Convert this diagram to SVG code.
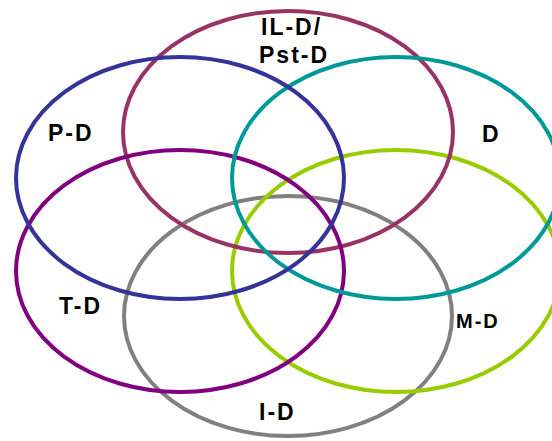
<svg xmlns="http://www.w3.org/2000/svg" width="552" height="441" viewBox="0 0 552 441">
<style>
.e{fill:none;stroke-width:4}
.t{font-family:"Liberation Sans",Arial,sans-serif;font-weight:bold;font-size:23px;fill:#000;letter-spacing:2px}
</style>
<rect width="552" height="441" fill="#fff"/>
<g id="connectors"/>
<g id="set-ID"><ellipse class="e" cx="288" cy="316" rx="164" ry="120" stroke="#808080"/></g>
<g id="set-MD"><ellipse class="e" cx="396" cy="271" rx="164" ry="121" stroke="#99CC00"/></g>
<g id="set-ILD"><ellipse class="e" cx="288" cy="132" rx="165" ry="121" stroke="#993366"/></g>
<g id="set-TD"><ellipse class="e" cx="180" cy="271" rx="164" ry="121" stroke="#800080"/></g>
<g id="set-D"><ellipse class="e" cx="396" cy="178" rx="164" ry="121" stroke="#009999"/></g>
<g id="set-PD"><ellipse class="e" cx="180" cy="178" rx="164" ry="121" stroke="#333399"/></g>
<g id="labels">
<text class="t" x="261" y="35" letter-spacing="4">IL-D/</text>
<text class="t" x="259" y="63">Pst-D</text>
<text class="t" x="48" y="141" letter-spacing="3">P-D</text>
<text class="t" x="482" y="142">D</text>
<text class="t" x="59" y="314" letter-spacing="3">T-D</text>
<text class="t" x="456" y="328" style="font-size:20px">M-D</text>
<text class="t" x="259" y="420" letter-spacing="4">I-D</text>
</g>
</svg>
